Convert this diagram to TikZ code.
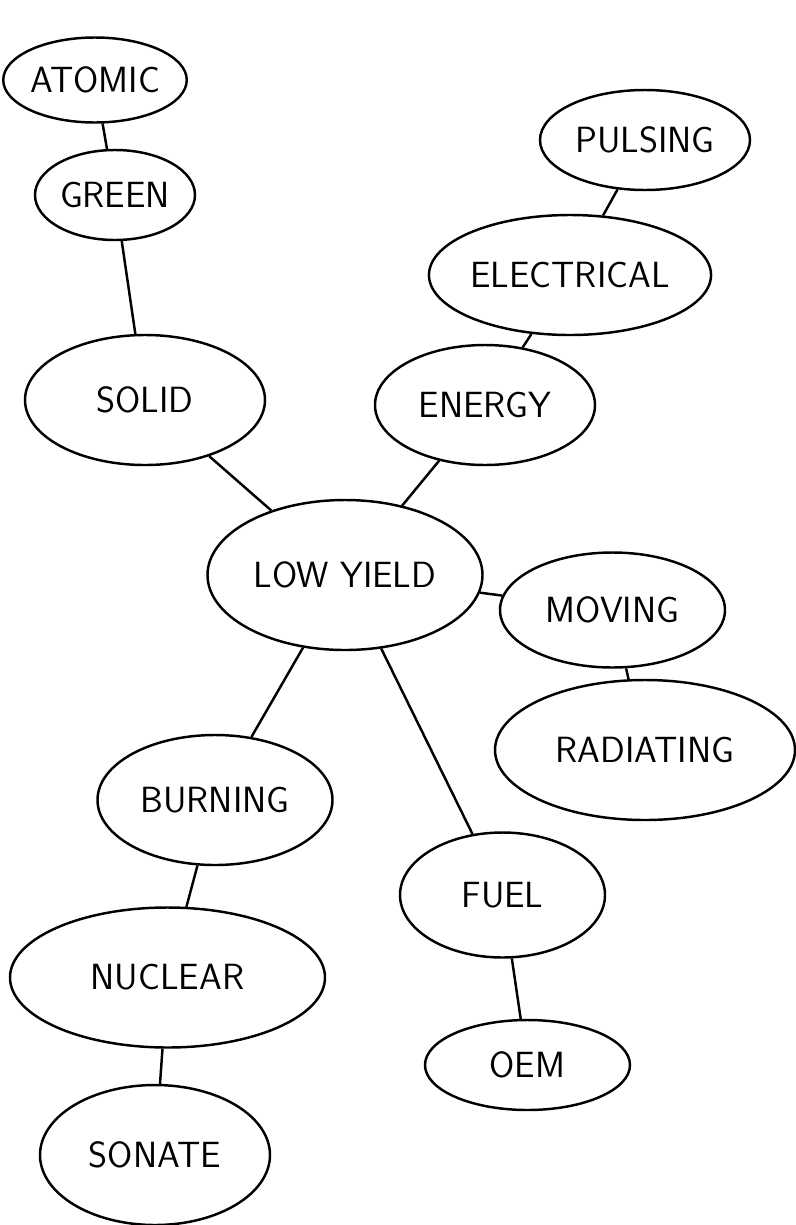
\documentclass[tikz,border=0pt]{standalone}
\usetikzlibrary{shapes.geometric}

\tikzset{
  blob/.style={draw, ellipse, line width=1.4pt, inner sep=0pt, font=\sffamily\huge},
  link/.style={line width=1.4pt}
}

\begin{document}
\begin{tikzpicture}
         \useasboundingbox (0,0) rectangle (15.9,-24.5) ;
         % left branch
         \node[blob, minimum width=3.5cm, minimum height=1.7cm] (atomic) at (1.9,-1.6) {ATOMIC} ;
         \node[blob, minimum width=3.2cm, minimum height=1.8cm] (green) at (2.3,-3.9) {GREEN} ;
         \node[blob, minimum width=4.8cm, minimum height=2.6cm] (solid) at (2.9,-8.0) {SOLID} ;
         % right branch
         \node[blob, minimum width=4.2cm, minimum height=2.0cm] (pulsing) at (12.9,-2.8) {PULSING} ;
         \node[blob, minimum width=5.0cm, minimum height=2.4cm] (electrical) at (11.4,-5.5) {ELECTRICAL} ;
         \node[blob, minimum width=4.4cm, minimum height=2.4cm] (energy) at (9.7,-8.1) {ENERGY} ;
         % centre
         \node[blob, minimum width=5.5cm, minimum height=3.0cm] (lowyield) at (6.9,-11.5) {LOW YIELD} ;
         \node[blob, minimum width=4.5cm, minimum height=2.3cm] (moving) at (12.25,-12.2) {MOVING} ;
         \node[blob, minimum width=6.0cm, minimum height=2.8cm] (radiating) at (12.9,-15.0) {RADIATING} ;
         % lower part
         \node[blob, minimum width=4.7cm, minimum height=2.6cm] (burning) at (4.3,-16.0) {BURNING} ;
         \node[blob, minimum width=4.1cm, minimum height=2.5cm] (fuel) at (10.05,-17.9) {FUEL} ;
         \node[blob, minimum width=6.3cm, minimum height=2.8cm] (nuclear) at (3.35,-19.55) {NUCLEAR} ;
         \node[blob, minimum width=4.1cm, minimum height=1.8cm] (oem) at (10.55,-21.3) {OEM} ;
         \node[blob, minimum width=4.6cm, minimum height=2.8cm] (sonate) at (3.1,-23.1) {SONATE} ;
         % links
         \draw[link] (atomic) -- (green) ;
         \draw[link] (green) -- (solid) ;
         \draw[link] (solid) -- (lowyield) ;
         \draw[link] (pulsing) -- (electrical) ;
         \draw[link] (electrical) -- (energy) ;
         \draw[link] (energy) -- (lowyield) ;
         \draw[link] (lowyield) -- (moving) ;
         \draw[link] (moving) -- (radiating) ;
         \draw[link] (lowyield) -- (burning) ;
         \draw[link] (lowyield) -- (fuel) ;
         \draw[link] (burning) -- (nuclear) ;
         \draw[link] (fuel) -- (oem) ;
         \draw[link] (nuclear) -- (sonate) ;
       \end{tikzpicture}
\end{document}
